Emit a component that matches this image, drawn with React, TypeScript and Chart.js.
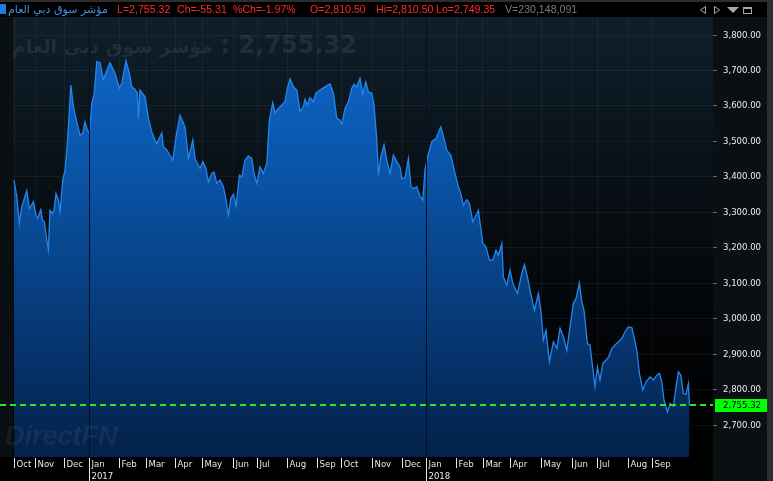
import React, { useEffect, useRef } from "react";
import { Chart, registerables } from "chart.js";

Chart.register(...registerables);

// Session index (trading-session position along the time axis) and index level
const SESSION_IDX = [
  0.5, 1.9, 3.2, 4.4, 6.9, 8.2, 8.9, 10.2, 11.5, 12.4, 13.2, 13.9, 14.7, 15.7, 16.9, 17.7, 18.5, 19.7, 20.5, 21.5,
  22.7, 23.5, 24.9, 26, 26.9, 27.7,
  28.9, 30.2, 31.9, 33.5, 34.9, 36, 37.2, 38.2, 39.4, 40.5, 41.9, 43.5, 45.2, 46.9, 48.5, 51, 53.2, 54.4, 56.5, 58.2,
  59.4, 61, 62.2, 62.7, 63.5, 66, 67.7, 69.4, 71, 71.9, 74.4, 75.2, 76.9, 78.5, 79.9, 81.5, 83.5, 86, 87.7, 89.9,
  91, 92.7, 93.5, 94.9, 96.5, 97.7, 99.4, 100.5, 101.9, 103.5, 105.2, 106.5, 107.7, 108.9, 110.2, 111.5, 113.2, 114.4, 116, 117.7,
  119.4, 120.5, 121.9, 123.5, 125.2, 126.9, 128.2, 129.9, 131, 132.7, 134.4, 136, 137.2, 138.5, 140.2, 141.9, 143.5, 145.2, 146, 147.2,
  148.5, 150.2, 151.5, 153.5, 156, 157.4, 158.5, 160.2, 161.9, 163.5, 164.4, 166, 167.7, 169.4, 170.5, 171.9, 173.5, 174.9, 176.4, 177.7,
  179.4, 180.5, 181.9, 182.7, 183.9, 185.5, 186.9, 188.5, 190.2, 191.9, 193.5, 194.4, 196, 197.7, 199, 200.5, 201.9, 203.5, 204.9, 206,
  207.5, 209.5, 211.5, 213.9, 215.2, 216.9, 218.9, 221, 222.7, 223.9, 225.2, 226.9, 228.2, 229.9, 232.7, 234.9, 236.5, 238.2, 239.9, 241.5,
  242.7, 244.4, 245.2, 246.9, 248.5, 249.9, 252.2, 254.4, 255.7, 257.2, 258.5, 260.7, 262.7, 263.9, 265.2, 266.5, 268.2, 270.2, 271.9, 273.5,
  275.2, 276.9, 278.5, 280.2, 281.5, 283.2, 284.4, 285.5, 287.2, 288.5, 290.2, 291, 292.2, 293.5, 294.9, 296.5, 297.9, 299.4, 301, 302.7,
  304.4, 306, 307.7, 309.4, 310.5, 311.9, 313.2, 314.9, 316.5, 318.5, 320.2, 321.9, 323.2, 324.4, 325.5, 327.2, 328.5, 330.2, 331.5, 332.7,
  333.9, 335.2, 336.5, 337.7, 338.2,
];

const INDEX_VALUES = [
  3391, 3344, 3269, 3316, 3361, 3311, 3316, 3330, 3292, 3283, 3297, 3308, 3278, 3273, 3222, 3195, 3306, 3297, 3306, 3353,
  3335, 3302, 3391, 3419, 3476, 3541,
  3659, 3598, 3555, 3518, 3523, 3555, 3532, 3523, 3607, 3631, 3725, 3722, 3675, 3701, 3722, 3692, 3650, 3664, 3728, 3692,
  3654, 3647, 3636, 3565, 3645, 3626, 3565, 3527, 3504, 3494, 3524, 3485, 3476, 3461, 3447, 3513, 3574, 3541, 3452, 3504,
  3452, 3433, 3424, 3443, 3424, 3386, 3410, 3414, 3382, 3391, 3372, 3335, 3292, 3339, 3351, 3318, 3405, 3400, 3447, 3459,
  3452, 3410, 3382, 3428, 3410, 3438, 3560, 3609, 3581, 3593, 3603, 3612, 3650, 3676, 3654, 3645, 3584, 3598, 3619, 3603,
  3624, 3612, 3637, 3645, 3654, 3659, 3662, 3636, 3565, 3560, 3549, 3593, 3612, 3650, 3662, 3654, 3678, 3634, 3668, 3640,
  3636, 3603, 3504, 3405, 3457, 3490, 3447, 3410, 3461, 3443, 3428, 3396, 3396, 3452, 3372, 3367, 3372, 3345, 3335, 3420,
  3461, 3500, 3508, 3541, 3515, 3475, 3461, 3410, 3372, 3353, 3320, 3336, 3325, 3273, 3306, 3212, 3203, 3165, 3165, 3193,
  3179, 3212, 3118, 3095, 3137, 3100, 3071, 3128, 3153, 3118, 3081, 3024, 3071, 3024, 2940, 2968, 2878, 2935, 2916, 2973,
  2949, 2911, 2977, 3043, 3057, 3101, 3048, 3024, 2930, 2926, 2846, 2808, 2864, 2827, 2874, 2883, 2893, 2916, 2926, 2935,
  2944, 2963, 2977, 2975, 2949, 2911, 2846, 2799, 2822, 2836, 2827, 2841, 2846, 2822, 2770, 2737, 2761, 2753, 2808, 2850,
  2841, 2789, 2787, 2817, 2755.32,
];

const MONTH_TICK_IDX = [0.5, 11, 25.5, 38, 53, 66.5, 81, 94.5, 110, 122, 137, 152, 164, 179.5, 194.5, 206.5, 221.5, 235, 248.5, 264, 279.5, 292, 307.5, 319.5];
const MONTH_LABELS = ["Oct", "Nov", "Dec", "Jan", "Feb", "Mar", "Apr", "May", "Jun", "Jul", "Aug", "Sep", "Oct", "Nov", "Dec", "Jan", "Feb", "Mar", "Apr", "May", "Jun", "Jul", "Aug", "Sep"];
const YEAR_TICK_IDX = [38, 206.5];
const YEAR_LABELS = ["2017", "2018"];
const Y_TICKS = [2700, 2800, 2900, 3000, 3100, 3200, 3300, 3400, 3500, 3600, 3700, 3800];
const Y_MIN = 2610;
const Y_MAX = 3851;
const X_MAX = 350;
const LAST_VALUE = 2755.32;
const INDEX_NAME = "مؤشر سوق دبي العام";
const HEADER_ITEMS = [
  { text: "L=2,755.32", left: 117, color: "#ff2a2a" },
  { text: "Ch=-55.31", left: 177, color: "#ff2a2a" },
  { text: "%Ch=-1.97%", left: 233, color: "#ff2a2a" },
  { text: "O=2,810.50", left: 310, color: "#ff2a2a" },
  { text: "Hi=2,810.50", left: 376, color: "#ff2a2a" },
  { text: "Lo=2,749.35", left: 436, color: "#ff2a2a" },
  { text: "V=230,148,091", left: 505, color: "#7a7a7a" },
];

const fmt = (v: number) =>
  v.toLocaleString("en-US", { minimumFractionDigits: 2, maximumFractionDigits: 2 });

const AXIS_FONT = "'DejaVu Sans Condensed', 'DejaVu Sans', sans-serif";

const framePlugin = {
  id: "frame",
  beforeDraw(chart: any) {
    const { ctx, chartArea: a, width, height } = chart;
    ctx.save();
    ctx.fillStyle = "#000";
    ctx.fillRect(0, 0, width, height);
    ctx.fillStyle = "#0a0f14";
    ctx.fillRect(0, a.top, a.left, a.bottom - a.top);
    ctx.fillRect(a.right, a.top, width - a.right, height - a.top);
    const g = ctx.createLinearGradient(0, a.top, 0, a.bottom);
    g.addColorStop(0, "#0f1f2b");
    g.addColorStop(0.45, "#070d12");
    g.addColorStop(0.8, "#010203");
    g.addColorStop(1, "#000000");
    ctx.fillStyle = g;
    ctx.fillRect(a.left, a.top, a.right - a.left, a.bottom - a.top);
    // header
    ctx.fillStyle = "#000";
    ctx.fillRect(0, 0, width, a.top);
    ctx.fillStyle = "#2c2c2c";
    ctx.fillRect(0, 0, width, 2);
    ctx.fillStyle = "#1e7be0";
    ctx.fillRect(0, 4, 6, 10);
    ctx.restore();
  },
  afterDatasetsDraw(chart: any) {
    const { ctx, chartArea: a, scales } = chart;
    const xs = scales.x;
    const ys = scales.y;
    ctx.save();
    // year separators
    ctx.strokeStyle = "#06101c";
    ctx.lineWidth = 1;
    YEAR_TICK_IDX.forEach((v) => {
      const x = Math.round(xs.getPixelForValue(v)) + 0.5;
      ctx.beginPath();
      ctx.moveTo(x, a.top);
      ctx.lineTo(x, a.bottom);
      ctx.stroke();
    });
    // watermarks
    ctx.fillStyle = "rgba(140,155,170,0.14)";
    ctx.textBaseline = "alphabetic";
    ctx.font = "bold 24px 'DejaVu Sans'";
    const w = ctx.measureText(INDEX_NAME).width || 200;
    const size = Math.min(24, (24 * 201) / w);
    ctx.font = `bold ${size.toFixed(1)}px 'DejaVu Sans'`;
    ctx.textAlign = "left";
    ctx.fillText(INDEX_NAME, 12, 53);
    ctx.font = "bold 24px 'DejaVu Sans'";
    ctx.textAlign = "right";
    ctx.fillText(": " + fmt(LAST_VALUE), 357, 53);
    ctx.textAlign = "left";
    ctx.font = "italic bold 27px 'Liberation Sans'";
    ctx.fillStyle = "rgba(140,155,170,0.10)";
    ctx.fillText("DirectFN", 5, 445);
    // last price dashed line
    const y = Math.round(ys.getPixelForValue(LAST_VALUE));
    ctx.strokeStyle = "#22ee22";
    ctx.lineWidth = 2;
    ctx.setLineDash([6, 4]);
    ctx.beginPath();
    ctx.moveTo(0, y);
    ctx.lineTo(a.right, y);
    ctx.stroke();
    ctx.restore();
  },
  afterDraw(chart: any) {
    const { ctx, chartArea: a, scales, width, height } = chart;
    const xs = scales.x;
    const ys = scales.y;
    ctx.save();
    // x labels
    ctx.font = `9.5px ${AXIS_FONT}`;
    ctx.fillStyle = "#e6e6e6";
    ctx.strokeStyle = "#e6e6e6";
    ctx.lineWidth = 1;
    ctx.textAlign = "left";
    ctx.textBaseline = "alphabetic";
    MONTH_TICK_IDX.forEach((v, i) => {
      const x = Math.round(xs.getPixelForValue(v)) + 0.5;
      ctx.beginPath();
      ctx.moveTo(x, a.bottom + 1);
      ctx.lineTo(x, a.bottom + 11);
      ctx.stroke();
      ctx.fillText(MONTH_LABELS[i], x + 2, a.bottom + 10);
    });
    YEAR_TICK_IDX.forEach((v, i) => {
      const x = Math.round(xs.getPixelForValue(v)) + 0.5;
      ctx.beginPath();
      ctx.moveTo(x, a.bottom + 11);
      ctx.lineTo(x, height);
      ctx.stroke();
      ctx.fillText(YEAR_LABELS[i], x + 2, a.bottom + 22);
    });
    // last price label
    const y = Math.round(ys.getPixelForValue(LAST_VALUE));
    ctx.fillStyle = "#00ff00";
    ctx.fillRect(a.right + 2, y - 6, 52, 13);
    ctx.fillStyle = "#0a0a0a";
    ctx.font = `9.5px ${AXIS_FONT}`;
    ctx.textBaseline = "middle";
    ctx.fillText(fmt(LAST_VALUE), a.right + 10, y + 1);
    // right strip
    ctx.fillStyle = "#2e2e2e";
    ctx.fillRect(width - 6, 0, 6, height);
    // header icons
    ctx.strokeStyle = "#a8a8a8";
    ctx.fillStyle = "#a8a8a8";
    ctx.lineWidth = 1;
    ctx.beginPath();
    ctx.moveTo(705.5, 6.5);
    ctx.lineTo(700.5, 10);
    ctx.lineTo(705.5, 13.5);
    ctx.closePath();
    ctx.stroke();
    ctx.beginPath();
    ctx.moveTo(714.5, 6.5);
    ctx.lineTo(719.5, 10);
    ctx.lineTo(714.5, 13.5);
    ctx.closePath();
    ctx.stroke();
    ctx.beginPath();
    ctx.moveTo(727, 7);
    ctx.lineTo(739, 7);
    ctx.lineTo(733, 13);
    ctx.closePath();
    ctx.fill();
    ctx.strokeRect(743.5, 7.5, 8, 6);
    ctx.fillRect(743.5, 7, 8.5, 2);
    ctx.restore();
  },
};

export default function App() {
  const ref = useRef<HTMLCanvasElement | null>(null);

  useEffect(() => {
    if (!ref.current) return;
    const points = SESSION_IDX.map((x, i) => ({ x, y: INDEX_VALUES[i] }));
    const chart = new Chart(ref.current, {
      type: "line",
      data: {
        datasets: [
          {
            data: points,
            borderColor: "#2486ea",
            borderWidth: 1.3,
            pointRadius: 0,
            tension: 0,
            fill: "start",
            backgroundColor: (c: any) => {
              const area = c.chart.chartArea;
              if (!area) return "#0b4f9e";
              const g = c.chart.ctx.createLinearGradient(0, area.top, 0, area.bottom);
              g.addColorStop(0, "#0f6ad0");
              g.addColorStop(0.35, "#0a54a8");
              g.addColorStop(1, "#03214a");
              return g;
            },
          },
        ],
      },
      options: {
        animation: false,
        responsive: false,
        maintainAspectRatio: false,
        events: [],
        layout: { padding: { left: 13, top: 17, right: 0, bottom: 0 } },
        plugins: { legend: { display: false }, tooltip: { enabled: false }, title: { display: false } },
        scales: {
          x: {
            type: "linear",
            min: 0,
            max: X_MAX,
            z: 1,
            afterBuildTicks: (s: any) => {
              s.ticks = MONTH_TICK_IDX.map((v) => ({ value: v }));
            },
            afterFit: (s: any) => {
              s.height = 24;
            },
            ticks: { display: false },
            grid: { color: "rgba(255,255,255,0.045)", drawTicks: false },
            border: { display: false },
          },
          y: {
            type: "linear",
            position: "right",
            min: Y_MIN,
            max: Y_MAX,
            z: 1,
            afterBuildTicks: (s: any) => {
              s.ticks = Y_TICKS.map((v) => ({ value: v }));
            },
            afterFit: (s: any) => {
              s.width = 60;
            },
            ticks: {
              color: "#ececec",
              padding: 6,
              font: { family: AXIS_FONT, size: 9.5 },
              callback: (v: any) => fmt(Number(v)),
            },
            grid: { color: "rgba(255,255,255,0.05)", tickColor: "#6a6a6a", tickLength: 4 },
            border: { display: false },
          },
        },
      },
      plugins: [framePlugin],
    });
    return () => chart.destroy();
  }, []);

  return (
    <div style={{ position: "absolute", left: 0, top: 0, width: 773, height: 481, overflow: "hidden", background: "#000" }}>
      <canvas ref={ref} width={773} height={481} style={{ position: "absolute", left: 0, top: 0, width: 773, height: 481 }} />
      <span
        dir="rtl"
        style={{
          position: "absolute",
          left: 8,
          top: 2,
          lineHeight: "15px",
          fontFamily: "'DejaVu Sans', sans-serif",
          fontSize: 11,
          color: "#3d93ea",
          whiteSpace: "nowrap",
          unicodeBidi: "isolate",
        }}
      >
        {INDEX_NAME}
      </span>
      {HEADER_ITEMS.map((h, i) => (
        <span
          key={i}
          style={{
            position: "absolute",
            left: h.left,
            top: 2,
            lineHeight: "15px",
            fontFamily: "'Liberation Sans', sans-serif",
            fontSize: 10.6,
            color: h.color,
            whiteSpace: "nowrap",
          }}
        >
          {h.text}
        </span>
      ))}
    </div>
  );
}
